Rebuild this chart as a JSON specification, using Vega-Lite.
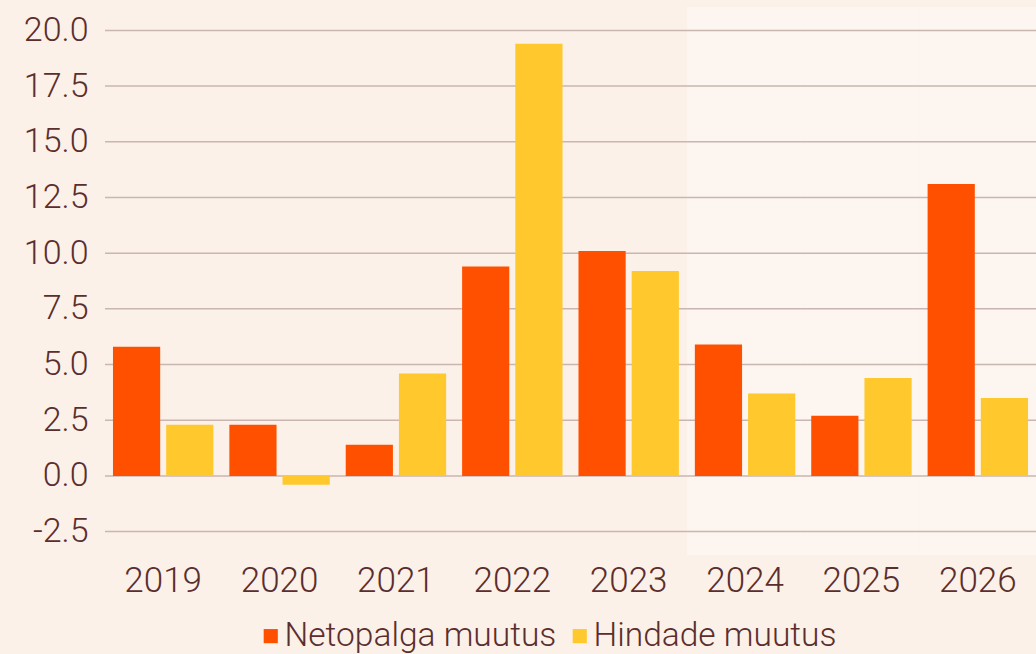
{
  "$schema": "https://vega.github.io/schema/vega-lite/v6.json",
  "width": 931,
  "height": 548,
  "autosize": {"type": "none"},
  "padding": {"left": 105, "top": 7, "right": 0, "bottom": 99},
  "background": "#FBF1E8",
  "config": {
    "view": {"stroke": null},
    "font": "Roboto",
    "axis": {"labelFont": "Roboto", "labelFontWeight": 300, "labelColor": "#5B2E2E"},
    "legend": {"labelFont": "Roboto", "labelFontWeight": 300, "labelColor": "#5B2E2E"}
  },
  "datasets": {
    "bars": [
      {"year": "2019", "series": "Netopalga muutus", "value": 5.8},
      {"year": "2019", "series": "Hindade muutus", "value": 2.3},
      {"year": "2020", "series": "Netopalga muutus", "value": 2.3},
      {"year": "2020", "series": "Hindade muutus", "value": -0.4},
      {"year": "2021", "series": "Netopalga muutus", "value": 1.4},
      {"year": "2021", "series": "Hindade muutus", "value": 4.6},
      {"year": "2022", "series": "Netopalga muutus", "value": 9.4},
      {"year": "2022", "series": "Hindade muutus", "value": 19.4},
      {"year": "2023", "series": "Netopalga muutus", "value": 10.1},
      {"year": "2023", "series": "Hindade muutus", "value": 9.2},
      {"year": "2024", "series": "Netopalga muutus", "value": 5.9},
      {"year": "2024", "series": "Hindade muutus", "value": 3.7},
      {"year": "2025", "series": "Netopalga muutus", "value": 2.7},
      {"year": "2025", "series": "Hindade muutus", "value": 4.4},
      {"year": "2026", "series": "Netopalga muutus", "value": 13.1},
      {"year": "2026", "series": "Hindade muutus", "value": 3.5}
    ],
    "shade": [
      {"year": "2024", "lo": -3.55, "hi": 21.05},
      {"year": "2025", "lo": -3.55, "hi": 21.05},
      {"year": "2026", "lo": -3.55, "hi": 21.05}
    ],
    "grid": [
      {"tick": -2.5}, {"tick": 0}, {"tick": 2.5}, {"tick": 5}, {"tick": 7.5},
      {"tick": 10}, {"tick": 12.5}, {"tick": 15}, {"tick": 17.5}, {"tick": 20}
    ]
  },
  "layer": [
    {
      "data": {"name": "shade"},
      "mark": {"type": "rect", "color": "#FDF5EF"},
      "encoding": {
        "x": {"field": "year", "type": "nominal"},
        "y": {"field": "lo", "type": "quantitative"},
        "y2": {"field": "hi"}
      }
    },
    {
      "data": {"name": "grid"},
      "mark": {"type": "rule", "color": "#C9B6B1", "strokeWidth": 1.5},
      "encoding": {
        "y": {"field": "tick", "type": "quantitative"}
      }
    },
    {
      "data": {"name": "bars"},
      "mark": {"type": "bar"},
      "encoding": {
        "x": {
          "field": "year", "type": "nominal",
          "scale": {"paddingInner": 0, "paddingOuter": 0, "domain": ["2019","2020","2021","2022","2023","2024","2025","2026"]},
          "axis": {"title": null, "labelAngle": 0, "labelFontSize": 35, "ticks": false, "domain": false, "labelPadding": 25, "bandPosition": 0.5, "labelAlign": "center"}
        },
        "xOffset": {
          "field": "series", "type": "nominal",
          "sort": ["Netopalga muutus", "Hindade muutus"],
          "scale": {"paddingInner": 0.113, "paddingOuter": 0.15}
        },
        "y": {
          "field": "value", "type": "quantitative",
          "scale": {"domain": [-3.55, 21.05], "nice": false, "zero": false},
          "axis": {
            "title": null, "values": [-2.5, 0, 2.5, 5, 7.5, 10, 12.5, 15, 17.5, 20],
            "labelExpr": "replace(format(datum.value, '.1f'), '\u2212', '-')",
            "labelFontSize": 34, "ticks": false, "domain": false, "grid": false,
            "labelPadding": 17
          }
        },
        "color": {
          "field": "series", "type": "nominal",
          "sort": ["Netopalga muutus", "Hindade muutus"],
          "scale": {"domain": ["Netopalga muutus", "Hindade muutus"], "range": ["#FF5000", "#FFC82C"]},
          "legend": {
            "title": null, "orient": "none", "legendX": 149, "legendY": 612, "direction": "horizontal",
            "padding": 0,
            "symbolType": "square", "symbolSize": 200, "symbolOpacity": 1,
            "labelFontSize": 33.5, "columnPadding": 6, "labelOffset": -3, "labelLimit": 400
          }
        }
      }
    }
  ]
}
